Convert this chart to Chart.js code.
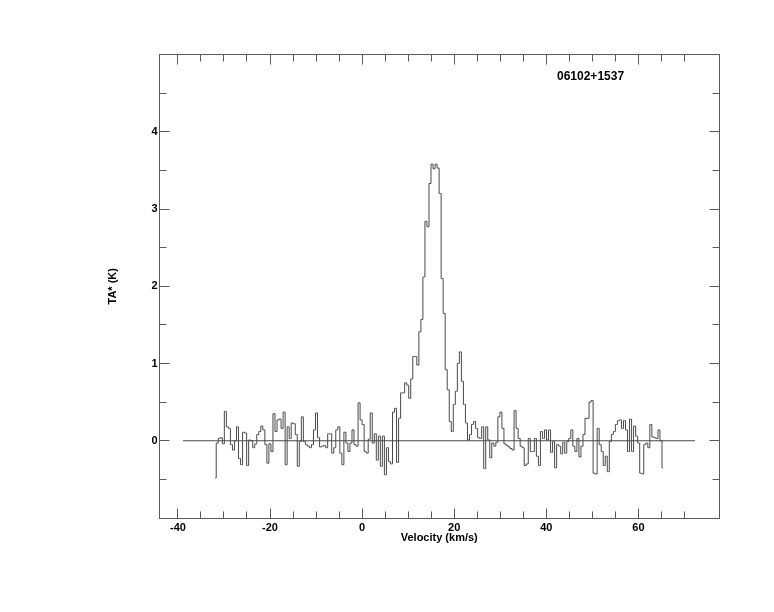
<!DOCTYPE html>
<html><head><meta charset="utf-8">
<script src="https://cdn.jsdelivr.net/npm/chart.js@4.4.0/dist/chart.umd.min.js"></script>
<style>html,body{margin:0;padding:0;background:#fff;} #wrap{width:774px;height:612px;}</style>
</head><body><div id="wrap"><canvas id="c" width="774" height="612"></canvas></div>
<script>
const sourceName = '06102+1537';
const xTitle = 'Velocity (km/s)';
const yTitle = 'TA* (K)';
const velStart = -31.9;   // km/s, first channel
const chanWidth = 0.44;   // km/s per channel
const taValues = [
 -0.48,-0.03,0.03,0.04,-0.04,0.38,0.18,0.16,-0.05,-0.12,
 0.00,0.18,-0.23,-0.31,0.11,0.10,-0.32,0.01,0.00,-0.09,
 -0.04,0.08,0.12,0.19,0.14,-0.05,-0.29,-0.04,-0.14,0.35,
 0.12,0.27,0.28,0.16,0.37,-0.31,0.18,0.03,0.23,0.22,
 0.08,-0.33,-0.01,0.31,-0.01,-0.05,-0.07,-0.09,-0.05,0.14,
 0.36,0.04,-0.08,-0.07,-0.06,-0.09,0.09,0.09,-0.16,-0.09,
 0.14,0.18,-0.16,-0.31,0.11,-0.03,-0.14,-0.03,0.14,-0.05,
 -0.07,0.49,0.27,0.21,-0.14,-0.16,0.02,0.36,-0.03,0.09,
 -0.25,0.06,-0.33,0.06,-0.44,-0.09,-0.27,-0.30,0.37,0.42,
 -0.28,0.29,0.62,0.62,0.75,0.72,0.55,0.80,1.09,1.09,
 0.98,1.41,1.57,2.12,2.84,2.77,3.33,3.58,3.52,3.58,
 3.53,3.20,2.10,1.65,0.92,0.66,0.25,0.12,0.47,0.64,
 1.00,1.15,0.77,0.47,0.23,0.01,0.08,0.21,0.25,0.16,
 0.04,0.03,0.18,-0.36,0.18,0.01,-0.22,-0.03,-0.07,-0.02,
 0.31,0.37,0.16,-0.04,-0.06,-0.08,-0.10,-0.12,0.39,0.16,
 0.03,-0.07,-0.09,-0.32,-0.30,0.03,-0.14,-0.14,0.03,-0.20,
 -0.32,0.12,0.03,0.14,0.01,0.14,-0.15,-0.01,-0.35,-0.05,
 -0.07,-0.17,-0.02,-0.16,-0.01,0.03,0.14,-0.07,-0.14,0.03,
 -0.21,-0.07,0.08,0.29,0.29,0.50,0.52,-0.42,-0.43,0.16,
 -0.05,-0.14,-0.32,-0.20,-0.40,-0.01,0.08,0.12,0.21,0.26,
 0.27,0.16,0.26,0.14,-0.14,0.28,-0.14,0.19,0.06,-0.03,
 -0.42,-0.43,-0.05,-0.03,-0.09,0.21,0.05,0.04,0.03,0.14,
 0.00,-0.35
];
const baselineVel = [-38.9, 72.3];
const xLabelTicks = [-40,-20,0,20,40,60];
const xMarkTicks = [-40,-35,-30,-25,-20,-15,-10,-5,0,5,10,15,20,25,30,35,40,45,50,55,60,65,70];
const yLabelTicks = [0,1,2,3,4];
const yMarkTicks = [-0.5,0,0.5,1,1.5,2,2.5,3,3.5,4,4.5];

const velocities = taValues.map((_, i) => velStart + i * chanWidth);
const lineColor = '#4a4a4a';
const axisColor = '#5a5a5a';
const fontFamily = '"Liberation Sans", Arial, Helvetica, sans-serif';

const framePlugin = {
  id: 'frame',
  afterDraw(chart) {
    const {ctx, chartArea: a, scales: {x, y}} = chart;
    const px = v => Math.floor(v) + 0.5;
    const L = px(a.left), R = px(a.right), T = px(a.top), B = px(a.bottom);
    ctx.save();
    ctx.strokeStyle = axisColor;
    ctx.lineWidth = 1;
    ctx.strokeRect(L, T, R - L, B - T);
    ctx.beginPath();
    xMarkTicks.forEach(v => {
      const xx = px(x.getPixelForValue(v));
      const len = (v % 20 === 0) ? 10 : 7;
      ctx.moveTo(xx, B); ctx.lineTo(xx, B - len);
      ctx.moveTo(xx, T); ctx.lineTo(xx, T + len);
    });
    yMarkTicks.forEach(v => {
      const yy = px(y.getPixelForValue(v));
      const len = Number.isInteger(v) ? 10 : 7;
      ctx.moveTo(L, yy); ctx.lineTo(L + len, yy);
      ctx.moveTo(R, yy); ctx.lineTo(R - len, yy);
    });
    ctx.stroke();
    ctx.fillStyle = '#000';
    ctx.font = 'bold 12px ' + fontFamily;
    ctx.textBaseline = 'middle';
    ctx.textAlign = 'left';
    ctx.fillText(sourceName, 557, 77);
    ctx.restore();
  }
};

const tickFont = {family: fontFamily, size: 11, weight: 'bold'};

new Chart(document.getElementById('c'), {
  type: 'line',
  data: {
    datasets: [
      { data: taValues.map((t, i) => ({x: velocities[i], y: t})), stepped: 'middle',
        borderColor: lineColor, borderWidth: 1, pointRadius: 0, fill: false },
      { data: baselineVel.map(v => ({x: v, y: 0})),
        borderColor: lineColor, borderWidth: 1, pointRadius: 0, fill: false }
    ]
  },
  options: {
    responsive: false, animation: false, devicePixelRatio: 1,
    layout: {padding: {left: 106, right: 55, top: 54.5, bottom: 67.4}},
    plugins: {legend: {display: false}, tooltip: {enabled: false}},
    scales: {
      x: {
        type: 'linear', position: 'bottom', min: -44, max: 77.5,
        afterBuildTicks: s => { s.ticks = xLabelTicks.map(v => ({value: v})); },
        afterFit: s => { s.height = 26.6; },
        grid: {display: false, drawTicks: false}, border: {display: false},
        ticks: {padding: 3, font: tickFont, color: '#000', maxRotation: 0, autoSkip: false,
                callback: v => String(v)},
        title: {display: true, text: xTitle, font: tickFont, color: '#000', padding: 0}
      },
      y: {
        type: 'linear', position: 'left', min: -1, max: 5,
        afterBuildTicks: s => { s.ticks = yLabelTicks.map(v => ({value: v})); },
        afterFit: s => { s.width = 53.5; },
        grid: {display: false, drawTicks: false}, border: {display: false},
        ticks: {padding: 2, font: tickFont, color: '#000', autoSkip: false,
                callback: v => String(v)},
        title: {display: true, text: yTitle, font: tickFont, color: '#000', padding: 0}
      }
    }
  },
  plugins: [framePlugin]
});
</script></body></html>
